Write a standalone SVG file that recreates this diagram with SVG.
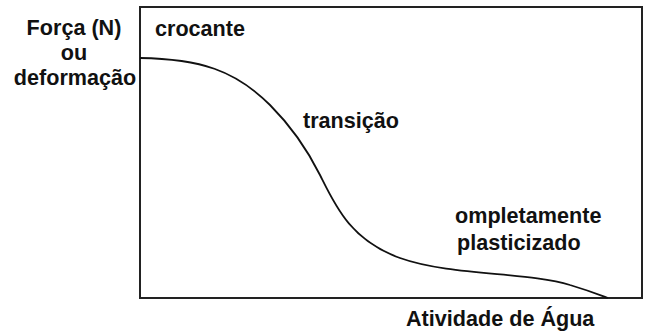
<svg xmlns="http://www.w3.org/2000/svg" width="650" height="331" viewBox="0 0 650 331">
<style>
text{font-family:"Liberation Sans",Arial,sans-serif;font-weight:bold;font-size:21.6px;fill:#111}
.frame{fill:none;stroke:#222;stroke-width:2}
.curve{fill:none;stroke:#111;stroke-width:1.8}
</style>
<rect width="650" height="331" fill="#fff"/>
<g id="plot-frame"><rect class="frame" x="140" y="7" width="502" height="291"/></g>
<g id="connectors"><path class="curve" d="M140,58 C200,59 235,70 270,105 C295,130 310,155 320,175 C335,205 350,240 400,258 C450,276 530,272 570,285 C590,291 600,295 608,298"/></g>
<g id="y-label" text-anchor="middle">
<text x="74" y="35">Força (N)</text>
<text x="74" y="60">ou</text>
<text x="75" y="85">deformação</text>
</g>
<g id="crocante"><text x="155" y="36">crocante</text></g>
<g id="transicao"><text x="303" y="128">transição</text></g>
<g id="plasticizado">
<text x="455" y="223">ompletamente</text>
<text x="457" y="250">plasticizado</text>
</g>
<g id="x-label"><text x="406" y="326">Atividade de Água</text></g>
</svg>
